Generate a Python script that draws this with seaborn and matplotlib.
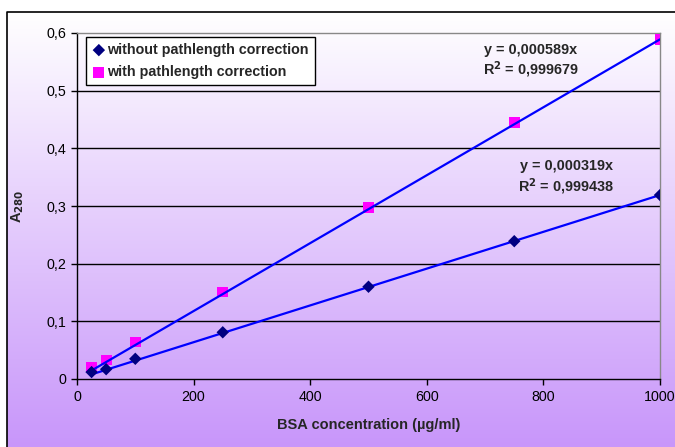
import numpy as np
import pandas as pd
import matplotlib
matplotlib.use("Agg")
import matplotlib.pyplot as plt
import seaborn as sns
from matplotlib.ticker import FuncFormatter

# data
conc = [25, 50, 100, 250, 500, 750, 1000]
without_corr = [0.012, 0.017, 0.035, 0.081, 0.160, 0.239, 0.319]
with_corr = [0.021, 0.033, 0.064, 0.151, 0.297, 0.445, 0.589]
slope_without = 0.000319
slope_with = 0.000589
trend_x = [25, 1000]

sns.set_theme(style="white")
plt.rcParams['font.family'] = ['Liberation Sans', 'DejaVu Sans']

fig = plt.figure(figsize=(6.75, 4.47), dpi=100)

# background gradient of the chart area (white -> lavender)
bg = fig.add_axes([0, 0, 1, 1], zorder=-10)
top_c = np.array([1.0, 1.0, 1.0])
bot_c = np.array([200, 150, 250]) / 255
t = np.linspace(0, 1, 256)[:, None]
grad = (1 - t) * top_c + t * bot_c
bg.imshow(grad[:, None, :], aspect="auto", extent=[7 / 675, 1, 0, 1 - 12 / 447],
          origin="upper")
bg.plot([7 / 675, 7 / 675, 1], [0, 1 - 12 / 447, 1 - 12 / 447], color="black", lw=1.2)
bg.set_xlim(0, 1)
bg.set_ylim(0, 1)
bg.axis("off")

ax = fig.add_axes([77 / 675, 1 - 379 / 447, (660 - 77) / 675, (379 - 33) / 447])
ax.set_facecolor("none")

df1 = pd.DataFrame({"x": conc, "y": without_corr})
df2 = pd.DataFrame({"x": conc, "y": with_corr})
tr1 = pd.DataFrame({"x": trend_x, "y": [slope_without * v for v in trend_x]})
tr2 = pd.DataFrame({"x": trend_x, "y": [slope_with * v for v in trend_x]})

sns.scatterplot(data=df2, x="x", y="y", marker="s", s=60, color="#ff00ff",
                edgecolor="none", ax=ax, zorder=3, label="with pathlength correction")
sns.lineplot(data=tr2, x="x", y="y", color="#0000ff", lw=1.6, ax=ax, zorder=4)
sns.lineplot(data=tr1, x="x", y="y", color="#0000ff", lw=1.6, ax=ax, zorder=4)
sns.scatterplot(data=df1, x="x", y="y", marker="D", s=40, color="#000080",
                edgecolor="none", ax=ax, zorder=5, label="without pathlength correction")

ax.set_xlim(0, 1000)
ax.set_ylim(0, 0.6)
ax.set_xticks([0, 200, 400, 600, 800, 1000])
ax.set_yticks([0, 0.1, 0.2, 0.3, 0.4, 0.5, 0.6])
ax.yaxis.set_major_formatter(FuncFormatter(lambda v, p: ("%g" % round(v, 1)).replace(".", ",")))
for yv in [0.1, 0.2, 0.3, 0.4, 0.5]:
    ax.axhline(yv, color="black", lw=1.0, zorder=1)

for side in ["left", "bottom"]:
    ax.spines[side].set_color("black")
    ax.spines[side].set_linewidth(1.0)
for side in ["right", "top"]:
    ax.spines[side].set_color("#888888")
    ax.spines[side].set_linewidth(1.0)
ax.tick_params(axis="both", direction="out", length=4, width=1, color="black",
               labelsize=10.3, bottom=True, left=True, pad=4, labelcolor="black")

ax.set_xlabel("BSA concentration (µg/ml)", fontsize=10.5, fontweight="bold", labelpad=10)
ax.set_ylabel("A$_{\\mathbf{280}}$", fontsize=10.5, fontweight="bold")
ax.yaxis.set_label_coords(-0.088, 0.5)

h, l = ax.get_legend_handles_labels()
leg = ax.legend(h[::-1], l[::-1], loc="upper left", bbox_to_anchor=(0.0154, 0.988),
                borderaxespad=0, frameon=True, fancybox=False, edgecolor="black",
                framealpha=1, prop={"weight": "bold", "size": 10.3}, handletextpad=0.1,
                handlelength=1.0, borderpad=0.4, labelspacing=0.6)
leg.get_frame().set_linewidth(1.0)

ax.text(778, 0.571, "y = 0,000589x", ha="center", va="center", fontsize=10.4, fontweight="bold")
ax.text(778, 0.536, "R$^{\\mathbf{2}}$ = 0,999679", ha="center", va="center", fontsize=10.4, fontweight="bold")
ax.text(839, 0.369, "y = 0,000319x", ha="center", va="center", fontsize=10.4, fontweight="bold")
ax.text(839, 0.334, "R$^{\\mathbf{2}}$ = 0,999438", ha="center", va="center", fontsize=10.4, fontweight="bold")

fig.savefig("out.png", dpi=100)
